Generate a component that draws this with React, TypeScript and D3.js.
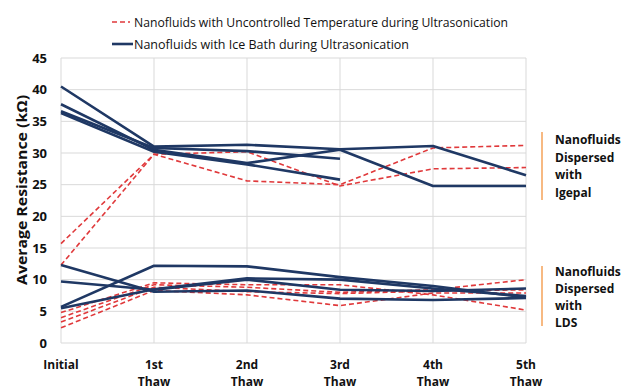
import React from "react";
import * as d3 from "d3";

const categories = ["Initial", "1st|Thaw", "2nd|Thaw", "3rd|Thaw", "4th|Thaw", "5th|Thaw"];
const yTicks = [0, 5, 10, 15, 20, 25, 30, 35, 40, 45];

// Ice bath (solid navy) – Igepal group
const iceIgepal1 = [40.5, 31.0, 31.3, 30.6, 31.1, 26.5];
const iceIgepal2 = [37.7, 30.5, 28.4, 30.5, 24.8, 24.8];
const iceIgepal3 = [36.6, 30.8, 30.3, 29.1, null, null];
const iceIgepal4 = [36.3, 30.2, 28.2, 25.8, null, null];
// Ice bath (solid navy) – LDS group
const iceLDS1 = [12.3, 8.1, 8.3, 7.0, 6.8, 7.1];
const iceLDS2 = [9.7, 8.4, 10.0, 8.4, 8.2, 8.6];
const iceLDS3 = [5.7, 12.2, 12.1, 10.4, 9.0, 7.2];
const iceLDS4 = [5.5, 8.5, 10.2, 10.0, 8.6, 7.4];
// Uncontrolled temperature (dashed red) – Igepal group
const uncIgepal1 = [15.7, 29.8, 25.6, 25.0, 30.8, 31.2];
const uncIgepal2 = [12.3, 29.8, 30.2, 24.8, 27.5, 27.7];
// Uncontrolled temperature (dashed red) – LDS group
const uncLDS1 = [4.8, 9.5, 9.2, 9.2, 7.6, 5.2];
const uncLDS2 = [4.0, 9.2, 8.8, 8.0, 8.4, 10.0];
const uncLDS3 = [3.3, 8.8, 8.1, 7.8, 8.2, 8.4];
const uncLDS4 = [2.4, 8.3, 7.6, 5.9, 7.9, 7.9];

const iceSeries = [iceIgepal1, iceIgepal2, iceIgepal3, iceIgepal4, iceLDS1, iceLDS2, iceLDS3, iceLDS4];
const uncSeries = [uncIgepal1, uncIgepal2, uncLDS1, uncLDS2, uncLDS3, uncLDS4];

const legendLabels = [
  "Nanofluids with Uncontrolled Temperature during Ultrasonication",
  "Nanofluids with Ice Bath during Ultrasonication",
];
const yTitle = "Average Resistance (kΩ)";
const groupLabels = [
  ["Nanofluids", "Dispersed", "with", "Igepal"],
  ["Nanofluids", "Dispersed", "with", "LDS"],
];

const NAVY = "#1f3864";
const RED = "#e0393b";
const ORANGE = "#f4a259";
const GRID = "#d9d9d9";
const FONT = "'Open Sans', 'Liberation Sans', sans-serif";

export default function App() {
  const W = 621;
  const H = 389;
  const x = d3.scalePoint<string>().domain(categories).range([61, 526]);
  const y = d3.scaleLinear().domain([0, 45]).range([343, 58]);

  const line = d3
    .line<number | null>()
    .defined((d) => d !== null)
    .x((_, i) => x(categories[i]) as number)
    .y((d) => y(d as number));

  return (
    <svg
      width={W}
      height={H}
      style={{ position: "absolute", left: 0, top: 0, background: "#fff" }}
      fontFamily={FONT}
    >
      {/* gridlines */}
      {yTicks.map((t) => (
        <line key={"h" + t} x1={61} x2={526} y1={y(t)} y2={y(t)} stroke={GRID} strokeWidth={1} />
      ))}
      {categories.map((c) => (
        <line key={"v" + c} x1={x(c)} x2={x(c)} y1={y(45)} y2={y(0)} stroke={GRID} strokeWidth={1} />
      ))}

      {/* y ticks */}
      {yTicks.map((t) => (
        <text
          key={"yt" + t}
          x={47}
          y={y(t)}
          dy="0.35em"
          textAnchor="end"
          fontSize={13}
          fontWeight={700}
          fill="#111"
        >
          {t}
        </text>
      ))}
      <text
        transform={`translate(22,190) rotate(-90)`}
        textAnchor="middle"
        dy="0.35em"
        fontSize={14}
        fontWeight={700}
        fill="#111"
        textLength={190}
        lengthAdjust="spacingAndGlyphs"
      >
        {yTitle}
      </text>

      {/* x labels */}
      {categories.map((c) => {
        const parts = c.split("|");
        return (
          <text key={"xl" + c} x={x(c)} textAnchor="middle" fontSize={12} fontWeight={700} fill="#111">
            {parts.map((p, i) => (
              <tspan key={i} x={x(c)} y={369 + i * 16.5}>
                {p}
              </tspan>
            ))}
          </text>
        );
      })}

      {/* series */}
      {uncSeries.map((s, i) => (
        <path
          key={"u" + i}
          d={line(s) || ""}
          fill="none"
          stroke={RED}
          strokeWidth={1.6}
          strokeDasharray="5,3"
        />
      ))}
      {iceSeries.map((s, i) => (
        <path
          key={"i" + i}
          d={line(s) || ""}
          fill="none"
          stroke={NAVY}
          strokeWidth={2.6}
          strokeLinejoin="round"
        />
      ))}

      {/* legend */}
      <line x1={112} x2={130} y1={22} y2={22} stroke={RED} strokeWidth={1.6} strokeDasharray="5,3" />
      <text x={134} y={26.5} fontSize={12.5} fontWeight={500} fill="#111" textLength={374} lengthAdjust="spacingAndGlyphs">
        {legendLabels[0]}
      </text>
      <line x1={112} x2={133} y1={44} y2={44} stroke={NAVY} strokeWidth={2.6} />
      <text x={134} y={48.5} fontSize={12.5} fontWeight={500} fill="#111" textLength={275} lengthAdjust="spacingAndGlyphs">
        {legendLabels[1]}
      </text>

      {/* group annotations */}
      <line x1={542} x2={542} y1={132} y2={200} stroke={ORANGE} strokeWidth={1.5} />
      {groupLabels[0].map((t, i) => (
        <text key={"g0" + i} x={555} y={140 + i * 17.5} dy="0.35em" fontSize={12} fontWeight={700} fill="#111">
          {t}
        </text>
      ))}
      <line x1={542} x2={542} y1={266} y2={326} stroke={ORANGE} strokeWidth={1.5} />
      {groupLabels[1].map((t, i) => (
        <text key={"g1" + i} x={555} y={272 + i * 17} dy="0.35em" fontSize={12} fontWeight={700} fill="#111">
          {t}
        </text>
      ))}
    </svg>
  );
}
